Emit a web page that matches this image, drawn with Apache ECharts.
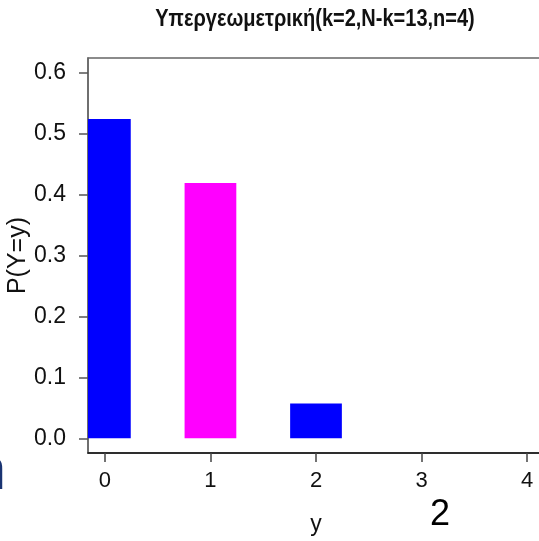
<!DOCTYPE html>
<html>
<head>
<meta charset="utf-8">
<script src="https://cdn.jsdelivr.net/npm/echarts@6/dist/echarts.min.js"></script>
<style>
html,body{margin:0;padding:0;background:#fff;}
#chart{width:539px;height:541px;}
</style>
</head>
<body>
<div id="chart"></div>
<script>
// Data
var categories = [0, 1, 2, 3, 4];
var probabilities = [0.5238, 0.4190, 0.0571, 0, 0];
var barColors = ['#0000FF', '#FF00FF', '#0000FF', '#0000FF', '#0000FF'];
var yTicks = [0, 0.1, 0.2, 0.3, 0.4, 0.5, 0.6];
var xTicks = [0, 1, 2, 3, 4];
var titleText = 'Υπεργεωμετρική(k=2,N-k=13,n=4)';
var xName = 'y';
var yName = 'P(Y=y)';

var FONT = 'Liberation Sans, Arial, sans-serif';
var HALF_BAR = 0.245;
var chart = echarts.init(document.getElementById('chart'), null, {renderer: 'canvas'});

var barData = categories.map(function (c, i) {
  return [c, probabilities[i], i];
}).filter(function (d) { return d[1] > 0; });

chart.setOption({
  animation: false,
  backgroundColor: '#fff',
  grid: {
    left: 88, top: 58, width: 456, height: 395,
    outerBoundsMode: 'none', containLabel: false,
    show: true, borderColor: '#666', borderWidth: 1.5, backgroundColor: 'transparent'
  },
  xAxis: {
    type: 'value', min: -0.16, max: 4.16,
    name: xName, nameLocation: 'middle', nameGap: 60, nameMoveOverlap: false,
    nameTextStyle: {fontFamily: FONT, fontSize: 23, color: '#111'},
    splitLine: {show: false},
    axisLine: {show: true, onZero: false, lineStyle: {color: '#111', width: 1.5}},
    axisTick: {show: true, length: 9, customValues: xTicks, lineStyle: {color: '#444', width: 1.5}},
    axisLabel: {show: true, customValues: xTicks, margin: 17, fontFamily: FONT, fontSize: 22, color: '#111',
      formatter: function (v) { return String(Math.round(v)); }}
  },
  yAxis: {
    type: 'value', min: -0.024, max: 0.624,
    name: yName, nameLocation: 'middle', nameGap: 57, nameRotate: 90, nameMoveOverlap: false,
    nameTextStyle: {fontFamily: FONT, fontSize: 25, color: '#111'},
    splitLine: {show: false},
    axisLine: {show: true, onZero: false, lineStyle: {color: '#666', width: 1.5}},
    axisTick: {show: true, length: 9, customValues: yTicks, lineStyle: {color: '#555', width: 1.5}},
    axisLabel: {show: true, customValues: yTicks, margin: 22, fontFamily: FONT, fontSize: 23, color: '#111',
      formatter: function (v) { return v.toFixed(1); }}
  },
  series: [{
    type: 'custom',
    data: barData,
    clip: true,
    encode: {x: 0, y: 1},
    renderItem: function (params, api) {
      var x = api.value(0), y = api.value(1), idx = api.value(2);
      var p0 = api.coord([x - HALF_BAR, y]);
      var p1 = api.coord([x + HALF_BAR, 0]);
      var cs = params.coordSys;
      var left = Math.max(p0[0], cs.x), right = Math.min(p1[0], cs.x + cs.width);
      if (right <= left) return null;
      return {
        type: 'rect',
        shape: {x: left, y: p0[1], width: right - left, height: p1[1] - p0[1]},
        style: {fill: barColors[idx]}
      };
    }
  }],
  graphic: [
    {type: 'text', x: 315, y: 20, scaleY: 1.15,
      style: {text: titleText, font: 'bold 20px ' + FONT, fill: '#111', align: 'center', verticalAlign: 'middle'}},
    {type: 'text', x: 430, y: 497,
      style: {text: '2', font: '36px ' + FONT, fill: '#000'}},
    {type: 'text', x: 6, y: 442,
      style: {text: 'n', font: '60px ' + FONT, fill: '#1a3472', align: 'right', verticalAlign: 'top'}}
  ]
});
</script>
</body>
</html>
